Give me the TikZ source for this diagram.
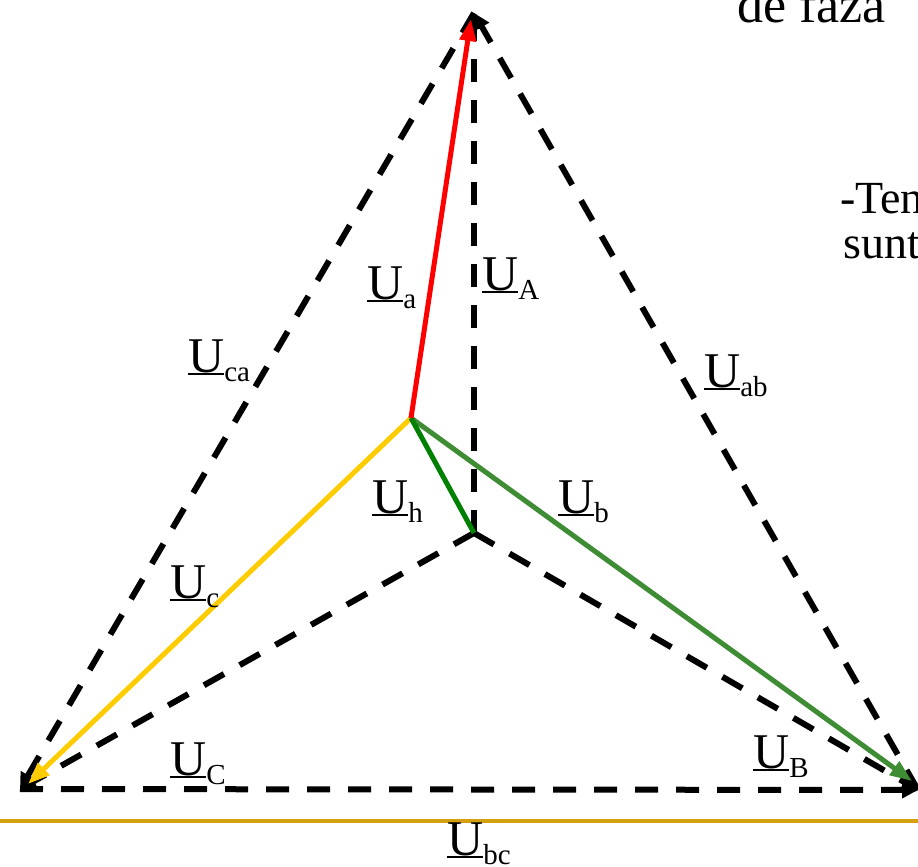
\documentclass[tikz,border=0pt]{standalone}
\usepackage{fontspec}
\setmainfont{Liberation Serif}
\usetikzlibrary{arrows.meta}
\definecolor{phred}{RGB}{255,0,0}
\definecolor{phyel}{RGB}{255,204,0}
\definecolor{phgrn}{RGB}{62,140,52}
\definecolor{hgrn}{RGB}{0,128,0}
\definecolor{gold}{RGB}{212,160,16}
\newcommand{\Uline}{\setbox0\hbox{U}\rlap{\rule[-3pt]{\wd0}{2.2pt}}\box0}
\newcommand{\lbl}[1]{\Uline\raisebox{-9pt}{\fontsize{29}{31}\selectfont #1}}
\tikzset{
  dsh/.style={line width=6pt, dash pattern=on 23pt off 18pt, black},
  bhead/.style={-{Triangle[length=16pt,width=16pt]}},
  cvec/.style={line width=5pt, -{Triangle[length=22pt,width=16pt]}},
  ulab/.style={anchor=base west, inner sep=0pt, font=\fontsize{50}{56}\selectfont},
  txt/.style={anchor=base west, inner sep=0pt, font=\fontsize{46}{52}\selectfont}
}
\begin{document}
\begin{tikzpicture}[x=1pt,y=-1pt]
\useasboundingbox (0,0) rectangle (918,867);
\coordinate (A) at (474,13);
\coordinate (B) at (918,790);
\coordinate (C) at (20,789);
\coordinate (O) at (474,533);
\coordinate (N) at (411,418);
\coordinate (Ra) at (471,19);
\coordinate (Yc) at (28,784);
\coordinate (Gb) at (912,781);
\coordinate (L1) at (0,821);
\coordinate (L2) at (918,821);
% golden line
\draw[gold, line width=4pt] (L1) -- (L2);
% dashed triangle and star
\draw[dsh, bhead] (O) -- (A);
\draw[dsh, bhead] (O) -- (B);
\draw[dsh, bhead] (O) -- (C);
\draw[dsh, bhead] (B) -- (A);
\draw[dsh, bhead] (A) -- (C);
\draw[dsh, bhead] (C) -- (B);
% coloured phasors
\draw[cvec, phyel] (N) -- (Yc);
\draw[cvec, phgrn] (N) -- (Gb);
\draw[hgrn, line width=5pt] (N) -- (O);
\draw[cvec, phred] (N) -- (Ra);
% labels
\node[ulab] (la) at (367,299) {\lbl{a}};
\node[ulab] (lA) at (482,290) {\lbl{A}};
\node[ulab] (lca) at (188,372) {\lbl{ca}};
\node[ulab] (lab) at (704,387) {\lbl{ab}};
\node[ulab] (lh) at (372,513) {\lbl{h}};
\node[ulab] (lb) at (558,513) {\lbl{b}};
\node[ulab] (lc) at (170,598) {\lbl{c}};
\node[ulab] (lC) at (170,775) {\lbl{C}};
\node[ulab] (lB) at (753,768) {\lbl{B}};
\node[ulab] (lbc) at (447,855) {\lbl{bc}};
% cut-off text at the edges
\begin{scope}
\clip (0,0) rectangle (918,867);
\node[txt, font=\fontsize{52}{58}\selectfont] (t1) at (737,23) {de faza};
\node[txt] (t2) at (840,213) {-Ten};
\node[txt] (t3) at (843,258) {sunt};
\end{scope}
\end{tikzpicture}
\end{document}
